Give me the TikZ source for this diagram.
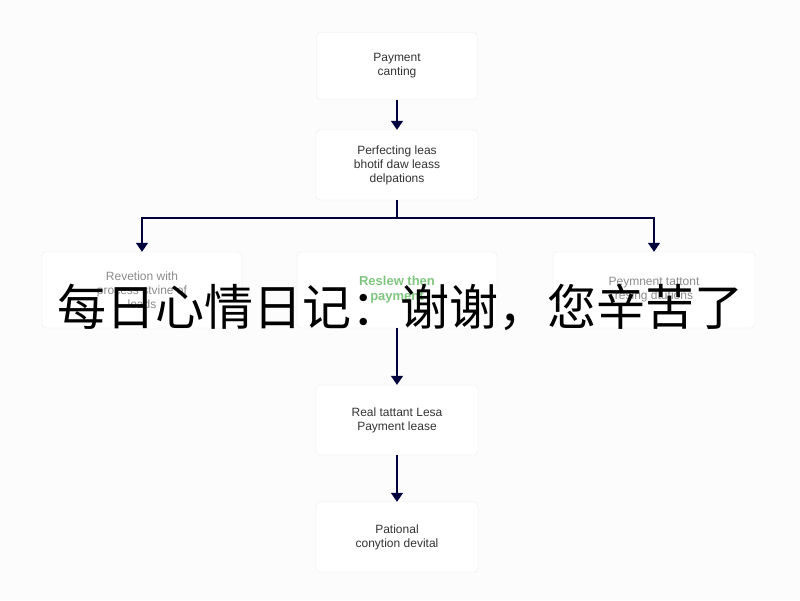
\documentclass[tikz,border=0pt]{standalone}
\usepackage{fontspec}
\setmainfont{Liberation Sans}
\newfontfamily\cjk{Noto Sans CJK SC}
\usetikzlibrary{arrows.meta}
\begin{document}
\begin{tikzpicture}[x=1pt,y=-1pt,
 box/.style={draw=black!8,fill=white,rounded corners=4pt,align=center,font=\fontsize{12}{14}\selectfont,text=black!80},
 arr/.style={draw=black!70!blue!80!black,line width=1.4pt,-{Triangle[length=9pt,width=12pt]}}]
\useasboundingbox[fill=black!1] (0,0) rectangle (800,600);
\node[box,minimum width=161pt,minimum height=67pt] (a) at (397,66) {Payment\\ canting};
\node[box,minimum width=162pt,minimum height=70pt] (b) at (397,165) {Perfecting leas\\ bhotif daw leass\\ delpations};
\node[box,minimum width=200pt,minimum height=76pt,text=black!45] (l) at (142,290) {Revetion with\\ process stvine of\\ loads};
\node[box,minimum width=200pt,minimum height=76pt,text=green!55!black!50,font=\bfseries\fontsize{13}{15}\selectfont] (m) at (397,290) {Reslew then\\ payment};
\node[box,minimum width=202pt,minimum height=76pt,text=black!45] (r) at (654,290) {Peymnent tattont\\ resing dtutions};
\node[box,minimum width=162pt,minimum height=70pt] (d) at (397,420) {Real tattant Lesa\\ Payment lease};
\node[box,minimum width=162pt,minimum height=70pt] (e) at (397,537) {Pational\\ conytion devital};
\coordinate (j) at (397,218);
\draw[arr] (a) -- (b);
\draw[draw=black!70!blue!80!black,line width=1.4pt] (b) -- (j);
\draw[arr] (j) -| (l);
\draw[arr] (j) -| (r);
\draw[arr] (m) -- (d);
\draw[arr] (d) -- (e);
\node[font=\cjk\fontsize{49}{52}\selectfont,text=black] (t) at (400,307) {每日心情日记：谢谢，您辛苦了};
\end{tikzpicture}
\end{document}
